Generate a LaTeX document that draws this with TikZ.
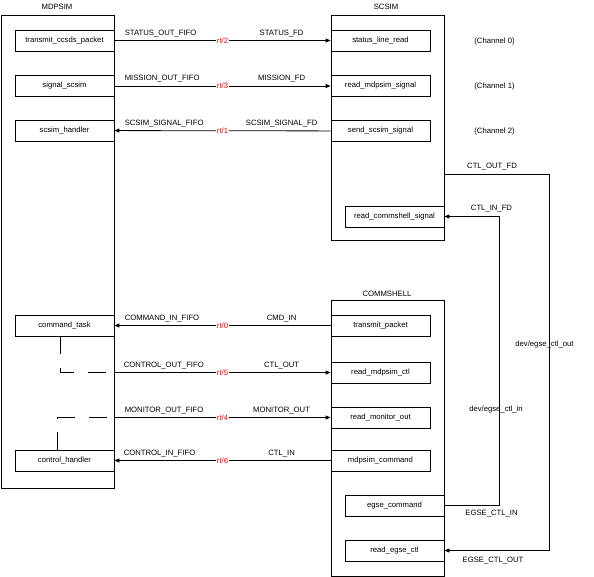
\documentclass[tikz,border=0pt]{standalone}
\usepackage{fontspec}
\setmainfont{Liberation Sans}
\usetikzlibrary{arrows.meta,calc}
\begin{document}
\begin{tikzpicture}[x=1pt,y=-1pt, line width=0.8pt,
 every node/.style={font=\fontsize{7.7}{9}\selectfont, inner sep=0pt},
 box/.style={draw, minimum width=99pt, minimum height=21pt},
 conn/.style={-{Triangle[length=5pt,width=4pt]}},
 fifo/.style={text=red, fill=white, inner sep=1pt},
 lbl/.style={anchor=base west},
 rlbl/.style={anchor=base},
 dsh/.style={dash pattern=on 18pt off 14pt}]
\useasboundingbox (0,0) rectangle (594,577);

% containers
\node[draw, minimum width=113pt, minimum height=473pt] (mdpsim) at (57.5,251.5) {};
\node[draw, minimum width=113pt, minimum height=225pt] (scsim) at (387.5,127.5) {};
\node[draw, minimum width=113pt, minimum height=276pt] (comm) at (387.5,438) {};
\node[rlbl] (tmd) at (57,10) {MDPSIM};
\node[rlbl] (tsc) at (386,10) {SCSIM};
\node[rlbl] (tcm) at (387,296) {COMMSHELL};

% MDPSIM tasks
\node[box] (tcp) at (64.5,40.5) {transmit\_ccsds\_packet};
\node[box] (ss) at (64.5,86) {signal\_scsim};
\node[box] (sh) at (64.5,130.5) {scsim\_handler};
\node[box] (ct) at (64.5,325.5) {command\_task};
\node[box] (ch) at (64.5,460.5) {control\_handler};

% SCSIM tasks
\node[box] (slr) at (380.5,40.5) {status\_line\_read};
\node[box] (rms) at (380.5,86) {read\_mdpsim\_signal};
\node[box] (sss) at (380.5,131) {send\_scsim\_signal};
\node[box] (rcs) at (394.5,216.5) {read\_commshell\_signal};

% COMMSHELL tasks
\node[box] (tp) at (380.5,325.5) {transmit\_packet};
\node[box] (rmc) at (380.5,372.5) {read\_mdpsim\_ctl};
\node[box] (rmo) at (380.5,417.5) {read\_monitor\_out};
\node[box] (mc) at (380.5,460.5) {mdpsim\_command};
\node[box] (egc) at (394.5,505.5) {egse\_command};
\node[box] (rec) at (394.5,550.5) {read\_egse\_ctl};

% channel notes
\node[rlbl] (ch0) at (494.5,44) {(Channel 0)};
\node[rlbl] (ch1) at (494.5,88.5) {(Channel 1)};
\node[rlbl] (ch2) at (494.5,133.5) {(Channel 2)};

% FIFO connectors
\draw[conn] (tcp) -- (slr) node[midway,fifo]{rt/2};
\node[lbl] at ($(tcp.east)+(10,-5)$) {STATUS\_OUT\_FIFO};
\node[rlbl] at ($(slr.west)+(-49,-5)$) {STATUS\_FD};

\draw[conn] (ss) -- (rms) node[midway,fifo]{rt/3};
\node[lbl] at ($(ss.east)+(10,-5)$) {MISSION\_OUT\_FIFO};
\node[rlbl] at ($(rms.west)+(-49,-5)$) {MISSION\_FD};

\draw[conn] (sss) -- (sh) node[midway,fifo]{rt/1};
\node[lbl] at ($(sh.east)+(10,-5)$) {SCSIM\_SIGNAL\_FIFO};
\node[rlbl] at ($(sss.west)+(-49,-5)$) {SCSIM\_SIGNAL\_FD};

\draw[conn] (tp) -- (ct) node[midway,fifo]{rt/0};
\node[lbl] at ($(ct.east)+(10,-5)$) {COMMAND\_IN\_FIFO};
\node[rlbl] at ($(tp.west)+(-49,-5)$) {CMD\_IN};

\draw[conn] (rmc.west -| mdpsim.east) -- (rmc.west) node[midway,fifo]{rt/5};
\node[lbl] at ($(rmc.west -| mdpsim.east)+(9,-5)$) {CONTROL\_OUT\_FIFO};
\node[rlbl] at ($(rmc.west)+(-49,-5)$) {CTL\_OUT};

\draw[conn] (rmo.west -| mdpsim.east) -- (rmo.west) node[midway,fifo]{rt/4};
\node[lbl] at ($(rmo.west -| mdpsim.east)+(10,-5)$) {MONITOR\_OUT\_FIFO};
\node[rlbl] at ($(rmo.west)+(-49,-5)$) {MONITOR\_OUT};

\draw[conn] (mc) -- (ch) node[midway,fifo]{rt/6};
\node[lbl] at ($(ch.east)+(9,-5)$) {CONTROL\_IN\_FIFO};
\node[rlbl] at ($(mc.west)+(-49,-5)$) {CTL\_IN};

% dashed internal links in MDPSIM
\coordinate (d1) at (60,372.5);
\draw[dsh] (d1 |- ct.south) -- (d1) -- (d1 -| mdpsim.east);
\coordinate (d2) at (57,417.5);
\draw[dsh] (d2 |- ch.north) -- (d2) -- (d2 -| mdpsim.east);

% control device links
\coordinate (c1) at (549,174);
\draw[conn] (c1 -| scsim.east) -- (c1) |- (rec.east);
\coordinate (c2) at (499,216.5);
\draw[conn] (egc.east) -| (c2) -- (rcs.east);

\node[rlbl] at (492,169) {CTL\_OUT\_FD};
\node[rlbl] at (491.5,211) {CTL\_IN\_FD};
\node[rlbl] at (491.5,515) {EGSE\_CTL\_IN};
\node[rlbl] at (493,562) {EGSE\_CTL\_OUT};
\node[rlbl] at (544.5,346) {dev/egse\_ctl\_out};
\node[rlbl] at (496,411) {dev/egse\_ctl\_in};
\end{tikzpicture}
\end{document}
